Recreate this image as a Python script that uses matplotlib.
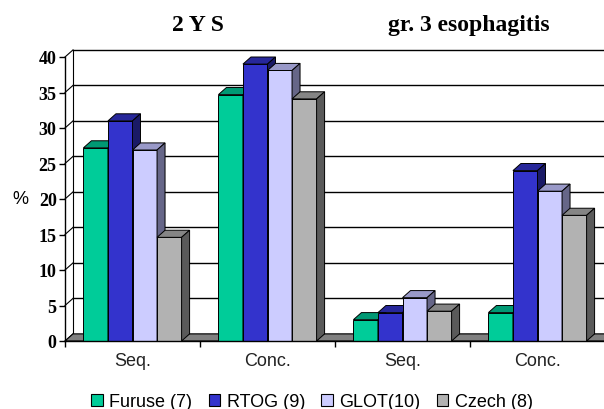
import matplotlib as mpl
mpl.use('Agg')
import matplotlib.pyplot as plt
from matplotlib.patches import Polygon, Patch
import numpy as np

categories = ['Seq.', 'Conc.', 'Seq.', 'Conc.']
names = ['Furuse (7)', 'RTOG (9)', 'GLOT(10)', 'Czech (8)']
furuse = [27.2, 34.7, 3.0, 4.0]
rtog = [31.0, 39.0, 4.0, 24.0]
glot = [26.9, 38.1, 6.1, 21.1]
czech = [14.6, 34.1, 4.2, 17.7]
series = [furuse, rtog, glot, czech]

front_cols = ['#00CC99', '#3333CC', '#CCCCFF', '#B2B2B2']
top_cols = ['#009974', '#27279A', '#9999C8', '#858585']
side_cols = ['#006B50', '#1A1A66', '#666688', '#5A5A5A']

serif = 'Liberation Serif'
sans = 'Liberation Sans'

fig = plt.figure(figsize=(6.04, 4.10), dpi=100)
ax = fig.add_axes([65 / 604, 68 / 410, 540 / 604, 284 / 410])
ax.set_xlim(0, 4)
ax.set_ylim(0, 40)
ax.patch.set_visible(False)

# depth offset of the pseudo 3d (data units)
dx = 8 / 135.
dy = 1.0
ncat = len(categories)

# floor
ax.add_patch(Polygon([(0, 0), (ncat + 1, 0), (ncat + 1 + dx, dy), (dx, dy)],
                     closed=True, fc='#808080', ec='black', lw=0.8,
                     zorder=1, clip_on=False))
# back wall grid + side wall lines
for v in range(0, 45, 5):
    ax.plot([dx, ncat + 1], [v + dy, v + dy], color='black', lw=1.0,
            zorder=0.5, clip_on=False)
    ax.plot([0, dx], [v, v + dy], color='black', lw=0.8, zorder=0.5,
            clip_on=False)
ax.plot([dx, dx], [dy, 40 + dy], color='black', lw=0.8, zorder=0.5,
        clip_on=False)

# bars
w = 1 / 5.5
gap = 0.75 * w
idx = np.arange(ncat)
for j, vals in enumerate(series):
    left = idx + gap + j * w
    rects = ax.bar(left, vals, w, align='edge', color=front_cols[j],
                   edgecolor='black', linewidth=0.7, zorder=2 + j,
                   clip_on=False, label=names[j])
    for r in rects:
        x0 = r.get_x()
        x1 = x0 + r.get_width()
        h = r.get_height()
        ax.add_patch(Polygon([(x0, h), (x1, h), (x1 + dx, h + dy), (x0 + dx, h + dy)],
                             closed=True, fc=top_cols[j], ec='black', lw=0.7,
                             zorder=2 + j, clip_on=False))
        ax.add_patch(Polygon([(x1, 0), (x1 + dx, dy), (x1 + dx, h + dy), (x1, h)],
                             closed=True, fc=side_cols[j], ec='black', lw=0.7,
                             zorder=2 + j, clip_on=False))

for s in ['top', 'right']:
    ax.spines[s].set_visible(False)
for s in ['left', 'bottom']:
    ax.spines[s].set_linewidth(1.0)
    ax.spines[s].set_zorder(10)

ax.set_yticks(range(0, 45, 5))
ax.tick_params(axis='y', direction='out', length=4, width=1, pad=2)
for t in ax.get_yticklabels():
    t.set_fontfamily(serif)
    t.set_fontweight('bold')
    t.set_fontsize(13)

ax.set_xticks(range(0, ncat + 1))
ax.set_xticklabels([])
ax.set_xticks(idx + 0.5, minor=True)
ax.set_xticklabels(categories, minor=True, fontfamily=sans, fontsize=13,
                   color='#222222')
ax.tick_params(axis='x', which='major', direction='out', length=4, width=1)
ax.tick_params(axis='x', which='minor', length=0, pad=8)

ax.set_ylabel('%', rotation=0, fontfamily=sans, fontsize=13, va='center',
              ha='center')
ax.yaxis.set_label_coords(-45 / 540, 0.5)

fig.text(198 / 604, 1 - 31 / 410, '2 Y S', fontfamily=serif,
         fontweight='bold', fontsize=17, ha='center', va='baseline')
fig.text(468.5 / 604, 1 - 31 / 410, 'gr. 3 esophagitis', fontfamily=serif,
         fontweight='bold', fontsize=17, ha='center', va='baseline')

handles = [Patch(fc=front_cols[j], ec='black', lw=0.8) for j in range(4)]
fig.legend(handles, names, loc='center', bbox_to_anchor=(312 / 604, 1 - 403 / 410),
           ncol=4, frameon=False, prop={'family': sans, 'size': 13},
           handlelength=0.65, handleheight=0.65, handletextpad=0.35,
           columnspacing=0.9, borderpad=0, borderaxespad=0)

fig.savefig('out.png', dpi=100)
